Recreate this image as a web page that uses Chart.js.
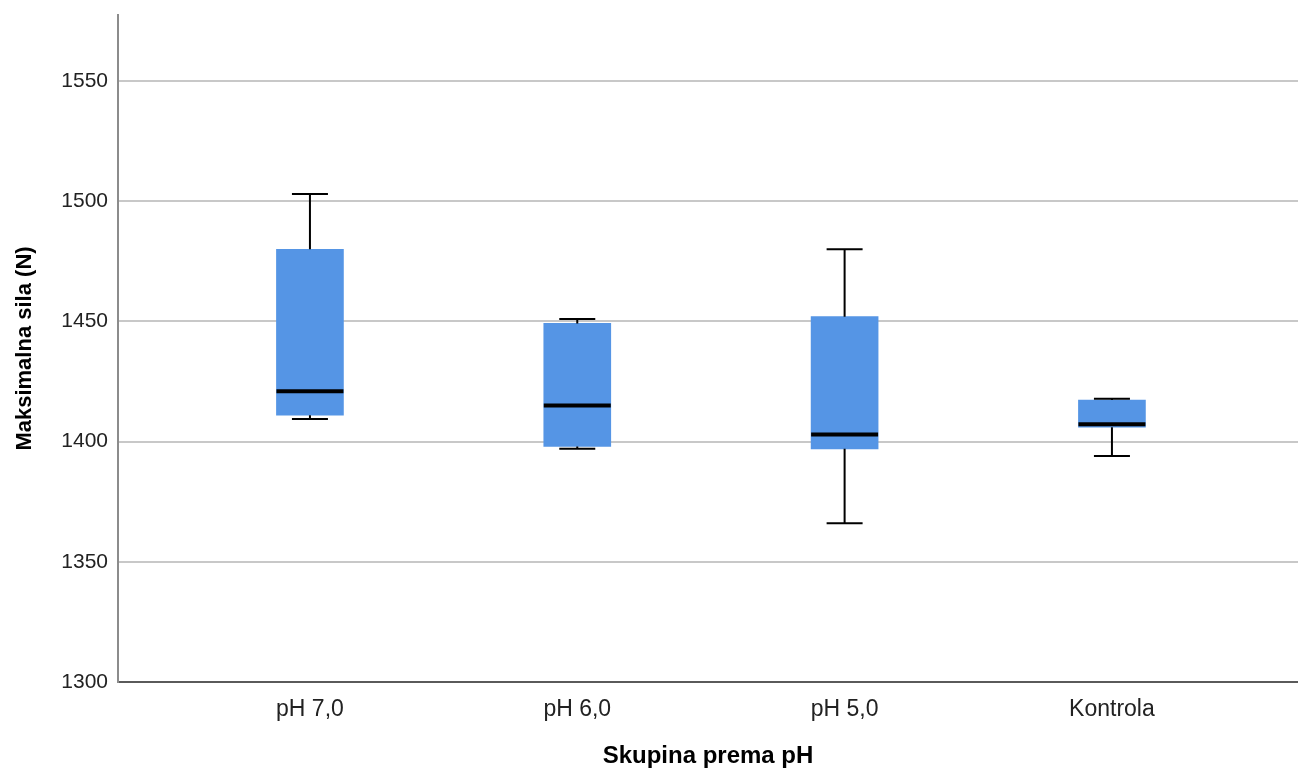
<!DOCTYPE html>
<html>
<head>
<meta charset="utf-8">
<script src="https://cdn.jsdelivr.net/npm/chart.js@4"></script>
<style>
    html, body { margin: 0; padding: 0; background: #fff; }
    #wrap { width: 1298px; height: 774px; }
</style>
</head>
<body>
<div id="wrap"><canvas id="boxChart"></canvas></div>
<script>
const categories = ['pH 7,0', 'pH 6,0', 'pH 5,0', 'Kontrola'];
const minValues = [1409.4, 1397, 1366, 1394];
const q1Values = [1411, 1398, 1397, 1406];
const medianValues = [1421, 1415, 1403, 1407.2];
const q3Values = [1480, 1449.2, 1452, 1417.3];
const maxValues = [1503, 1451, 1480, 1417.8];
const yTicks = [1300, 1350, 1400, 1450, 1500, 1550];

const BOX_WIDTH = 67;
const CAP_WIDTH = 36;

// whiskers + median line, drawn on top of the bars
const whiskerPlugin = {
    id: 'whiskers',
    afterDatasetsDraw(chart) {
        const ctx = chart.ctx;
        const xs = chart.scales.x;
        const ys = chart.scales.y;
        ctx.save();
        ctx.strokeStyle = '#000';
        categories.forEach((c, i) => {
            const px = xs.getPixelForValue(i);
            const yMin = ys.getPixelForValue(minValues[i]);
            const yQ1 = ys.getPixelForValue(q1Values[i]);
            const yMed = ys.getPixelForValue(medianValues[i]);
            const yQ3 = ys.getPixelForValue(q3Values[i]);
            const yMax = ys.getPixelForValue(maxValues[i]);

            ctx.lineWidth = 2;
            ctx.beginPath();
            ctx.moveTo(px, yQ3); ctx.lineTo(px, yMax);
            ctx.moveTo(px, yQ1); ctx.lineTo(px, yMin);
            ctx.moveTo(px - CAP_WIDTH / 2, yMax); ctx.lineTo(px + CAP_WIDTH / 2, yMax);
            ctx.moveTo(px - CAP_WIDTH / 2, yMin); ctx.lineTo(px + CAP_WIDTH / 2, yMin);
            ctx.stroke();

            ctx.lineWidth = 4;
            ctx.beginPath();
            ctx.moveTo(px - BOX_WIDTH / 2, yMed); ctx.lineTo(px + BOX_WIDTH / 2, yMed);
            ctx.stroke();
        });
        ctx.restore();
    }
};

const ctx = document.getElementById('boxChart').getContext('2d');

new Chart(ctx, {
    type: 'bar',
    data: {
        datasets: [{
            data: categories.map((c, i) => ({ x: i, y: [q1Values[i], q3Values[i]] })),
            backgroundColor: '#5595e5',
            borderWidth: 0,
            barThickness: BOX_WIDTH
        }]
    },
    options: {
        responsive: true,
        maintainAspectRatio: false,
        animation: false,
        layout: { padding: { top: 15, right: 0, left: 0, bottom: 0 } },
        plugins: {
            legend: { display: false },
            tooltip: { enabled: false }
        },
        scales: {
            x: {
                type: 'linear',
                offset: false,
                min: -0.718,
                max: 3.696,
                afterBuildTicks: (axis) => { axis.ticks = categories.map((c, i) => ({ value: i })); },
                afterFit: (axis) => { axis.height = 92; },
                grid: { display: false, drawTicks: false },
                border: { display: true, color: '#5a5a5a', width: 2 },
                ticks: {
                    padding: 14,
                    color: '#222',
                    font: { family: 'Liberation Sans', size: 23 },
                    maxRotation: 0,
                    callback: (v) => categories[v]
                },
                title: {
                    display: true,
                    text: 'Skupina prema pH',
                    color: '#000',
                    font: { family: 'Liberation Sans', size: 24, weight: 'bold' },
                    padding: { top: 0, bottom: 3 }
                }
            },
            y: {
                min: 1300,
                max: 1577.5,
                afterBuildTicks: (axis) => { axis.ticks = yTicks.map(v => ({ value: v })); },
                afterFit: (axis) => {
                    axis.width = 118;
                    axis.paddingTop = 0;
                    axis.paddingBottom = 0;
                },
                grid: { color: '#c8c8c8', lineWidth: 2, drawTicks: false },
                border: { display: true, color: '#8c8c8c', width: 2 },
                ticks: {
                    padding: 10,
                    color: '#222',
                    font: { family: 'Liberation Sans', size: 21 },
                    callback: (v) => String(v)
                },
                title: {
                    display: true,
                    text: 'Maksimalna sila (N)',
                    color: '#000',
                    font: { family: 'Liberation Sans', size: 22, weight: 'bold' },
                    padding: { top: 12, bottom: 0 }
                }
            }
        }
    },
    plugins: [whiskerPlugin]
});
</script>
</body>
</html>
